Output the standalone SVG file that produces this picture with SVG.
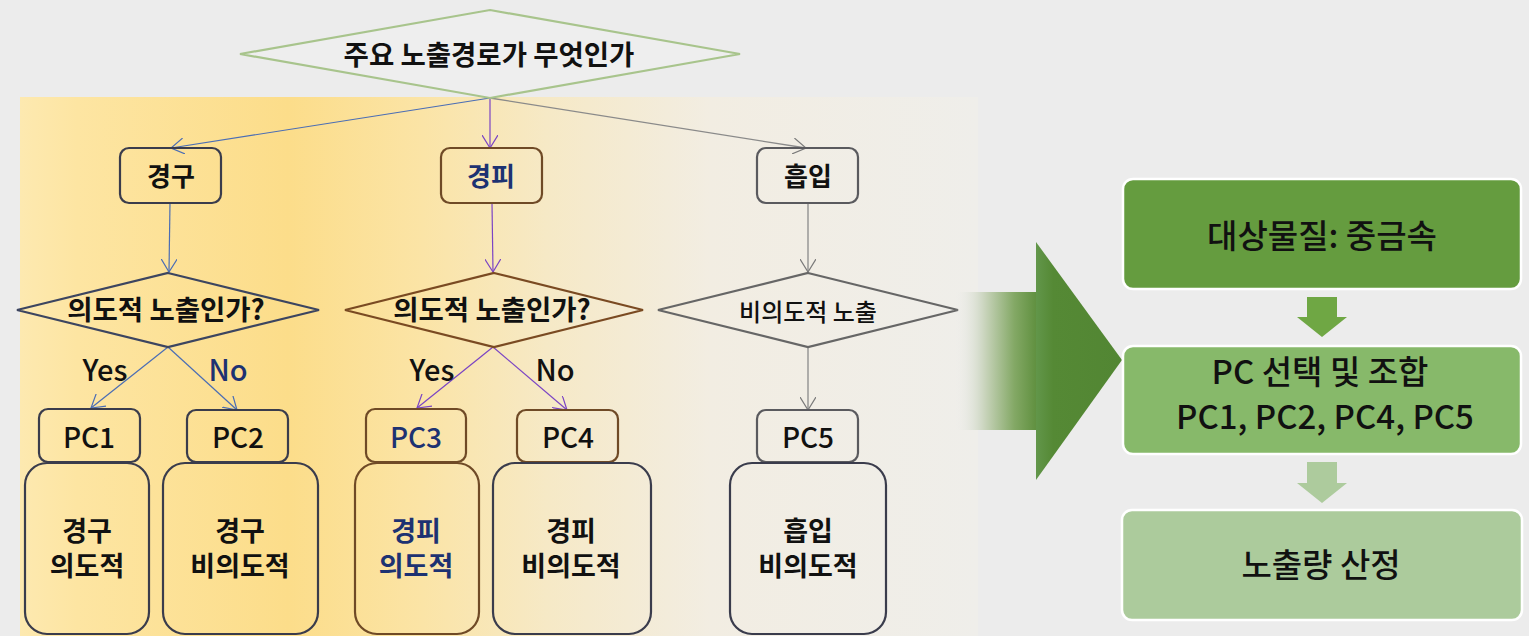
<svg xmlns="http://www.w3.org/2000/svg" width="1529" height="636" viewBox="0 0 1529 636">
<defs>
<linearGradient id="panel" x1="20" y1="0" x2="978" y2="0" gradientUnits="userSpaceOnUse">
<stop offset="0" stop-color="#fde9b0"/>
<stop offset="0.06" stop-color="#fde5a2"/>
<stop offset="0.28" stop-color="#fcdd8a"/>
<stop offset="0.42" stop-color="#fbe4a6"/>
<stop offset="0.55" stop-color="#f6e9c6"/>
<stop offset="0.72" stop-color="#f2ede2"/>
<stop offset="1" stop-color="#efeeea"/>
</linearGradient>
<linearGradient id="shaft" x1="955" y1="0" x2="1040" y2="0" gradientUnits="userSpaceOnUse">
<stop offset="0" stop-color="#ececec" stop-opacity="0"/>
<stop offset="0.35" stop-color="#c9d4bc"/>
<stop offset="0.7" stop-color="#83a865"/>
<stop offset="1" stop-color="#5a8c39"/>
</linearGradient>
<linearGradient id="head" x1="1036" y1="0" x2="1122" y2="0" gradientUnits="userSpaceOnUse">
<stop offset="0" stop-color="#62964a"/>
<stop offset="0.2" stop-color="#558935"/>
<stop offset="1" stop-color="#528633"/>
</linearGradient>
<marker id="mb" viewBox="0 0 14 16" refX="13" refY="8" markerWidth="14" markerHeight="16" markerUnits="userSpaceOnUse" orient="auto">
<path d="M0,0 L13,8 L0,16" fill="none" stroke="#4a6db5" stroke-width="1.2"/>
</marker>
<marker id="mp" viewBox="0 0 14 16" refX="13" refY="8" markerWidth="14" markerHeight="16" markerUnits="userSpaceOnUse" orient="auto">
<path d="M0,0 L13,8 L0,16" fill="none" stroke="#7b44c4" stroke-width="1.2"/>
</marker>
<marker id="mg" viewBox="0 0 14 16" refX="13" refY="8" markerWidth="14" markerHeight="16" markerUnits="userSpaceOnUse" orient="auto">
<path d="M0,0 L13,8 L0,16" fill="none" stroke="#7a7a7a" stroke-width="1.2"/>
</marker>
</defs>
<style>
text{font-family:"Noto Sans CJK KR","Noto Sans",sans-serif;text-anchor:middle;fill:#111}
.b{font-weight:700}
.m{font-weight:500}
.navy{fill:#1d3272}
.box{fill:none;stroke-width:2.2}
.dk{stroke:#3a3c4c}
.br{stroke:#6f4a26}
.gy{stroke:#5a5a5e}
.cb{fill:none;stroke:#4a6db5;stroke-width:1.2;marker-end:url(#mb)}
.cp{fill:none;stroke:#7b44c4;stroke-width:1.2;marker-end:url(#mp)}
.cg{fill:none;stroke:#8a8a8a;stroke-width:1.3;marker-end:url(#mg)}
.gbox{stroke:#fff;stroke-width:2.5}
.bt{font-weight:700;font-size:27px}
.pc{font-weight:500;font-size:28px}
.yn{font-weight:500;font-size:29px}
.gt{font-weight:500;font-size:33px}
</style>
<rect x="0" y="0" width="1529" height="636" fill="#ececec"/>
<rect x="20" y="97" width="958" height="539" fill="url(#panel)"/>

<g id="connectors">
<line class="cb" x1="490" y1="98" x2="171" y2="148"/>
<line class="cp" x1="490" y1="98" x2="490" y2="148"/>
<line class="cg" x1="490" y1="98" x2="806" y2="148"/>
<line class="cb" x1="170" y1="203" x2="169" y2="272"/>
<line class="cp" x1="492" y1="203" x2="493" y2="272"/>
<line class="cg" x1="808" y1="203" x2="808" y2="272"/>
<line class="cb" x1="168" y1="347" x2="91" y2="408"/>
<line class="cb" x1="168" y1="347" x2="237" y2="410"/>
<line class="cp" x1="493" y1="347" x2="417" y2="408"/>
<line class="cp" x1="493" y1="347" x2="567" y2="410"/>
<line class="cg" x1="808" y1="347" x2="808" y2="410"/>
</g>

<g id="q-main">
<polygon points="490,10 740,54 490,98 240,54" fill="#eeeeee" stroke="#a8c48c" stroke-width="2.2"/>
<text class="b" x="489" y="65" font-size="27.5">주요 노출경로가 무엇인가</text>
</g>

<g id="n-oral">
<rect class="box dk" x="120" y="148" width="101" height="55" rx="9"/>
<text class="b" x="171" y="186" font-size="26">경구</text>
</g>
<g id="n-dermal">
<rect class="box br" x="441" y="148" width="101" height="55" rx="9"/>
<text class="b navy" x="491" y="186" font-size="26">경피</text>
</g>
<g id="n-inhal">
<rect class="box gy" x="757" y="148" width="101" height="55" rx="9"/>
<text class="b" x="808" y="186" font-size="26">흡입</text>
</g>

<g id="q-oral">
<polygon points="168,273 319,310 168,347 17,310" fill="none" stroke="#3c4560" stroke-width="2.2"/>
<text class="b" x="166" y="320" font-size="27.5">의도적 노출인가?</text>
</g>
<g id="q-dermal">
<polygon points="494,273 643,310 494,347 345,310" fill="none" stroke="#7a4a22" stroke-width="2.2"/>
<text class="b" x="492" y="320" font-size="27.5">의도적 노출인가?</text>
</g>
<g id="q-inhal">
<polygon points="808,273 958,310 808,347 658,310" fill="none" stroke="#666" stroke-width="2.2"/>
<text class="m" x="808" y="321" font-size="24">비의도적 노출</text>
</g>

<g id="labels">
<text class="yn" x="105" y="381">Yes</text>
<text class="yn navy" x="228" y="381">No</text>
<text class="yn" x="432" y="381">Yes</text>
<text class="yn" x="555" y="381">No</text>
</g>

<g id="pc1">
<rect class="box dk" x="39" y="409" width="101" height="53" rx="9"/>
<text class="pc" x="89" y="448">PC1</text>
<rect class="box dk" x="25" y="463" width="124" height="171" rx="22"/>
<text class="bt" x="87" y="541">경구</text>
<text class="bt" x="87" y="576">의도적</text>
</g>
<g id="pc2">
<rect class="box dk" x="187" y="410" width="101" height="52" rx="9"/>
<text class="pc" x="238" y="448">PC2</text>
<rect class="box dk" x="163" y="463" width="155" height="171" rx="22"/>
<text class="bt" x="240" y="541">경구</text>
<text class="bt" x="240" y="576">비의도적</text>
</g>
<g id="pc3">
<rect class="box br" x="366" y="409" width="100" height="53" rx="9"/>
<text class="pc navy" x="416" y="448">PC3</text>
<rect class="box br" x="355" y="463" width="124" height="171" rx="22"/>
<text class="bt navy" x="416" y="541">경피</text>
<text class="bt navy" x="416" y="576">의도적</text>
</g>
<g id="pc4">
<rect class="box br" x="517" y="410" width="101" height="52" rx="9"/>
<text class="pc" x="568" y="448">PC4</text>
<rect class="box dk" x="493" y="463" width="158" height="171" rx="22"/>
<text class="bt" x="571" y="541">경피</text>
<text class="bt" x="571" y="576">비의도적</text>
</g>
<g id="pc5">
<rect class="box gy" x="757" y="410" width="101" height="52" rx="9"/>
<text class="pc" x="808" y="448">PC5</text>
<rect class="box dk" x="730" y="463" width="156" height="171" rx="22"/>
<text class="bt" x="808" y="541">흡입</text>
<text class="bt" x="808" y="576">비의도적</text>
</g>

<g id="big-arrow">
<rect x="955" y="292" width="82" height="138" fill="url(#shaft)"/>
<polygon points="1036,242 1122,360 1036,480" fill="url(#head)"/>
</g>

<g id="target">
<rect class="gbox" x="1123" y="179" width="398" height="110" rx="10" fill="#659c3f"/>
<text class="gt" x="1322" y="248">대상물질: 중금속</text>
</g>
<g id="arrow1">
<polygon points="1307,297 1337,297 1337,317 1347,317 1322,337 1297,317 1307,317" fill="#6fa744"/>
</g>
<g id="select">
<rect class="gbox" x="1123" y="346" width="398" height="108" rx="10" fill="#87b96a"/>
<text class="gt" x="1320" y="384" font-size="34">PC 선택 및 조합</text>
<text class="gt" x="1325" y="429">PC1, PC2, PC4, PC5</text>
</g>
<g id="arrow2">
<polygon points="1307,462 1337,462 1337,483 1347,483 1322,503 1297,483 1307,483" fill="#adcb9d"/>
</g>
<g id="estimate">
<rect class="gbox" x="1122" y="510" width="400" height="110" rx="10" fill="#accb9c"/>
<text class="gt" x="1321" y="577" font-size="34">노출량 산정</text>
</g>
</svg>
